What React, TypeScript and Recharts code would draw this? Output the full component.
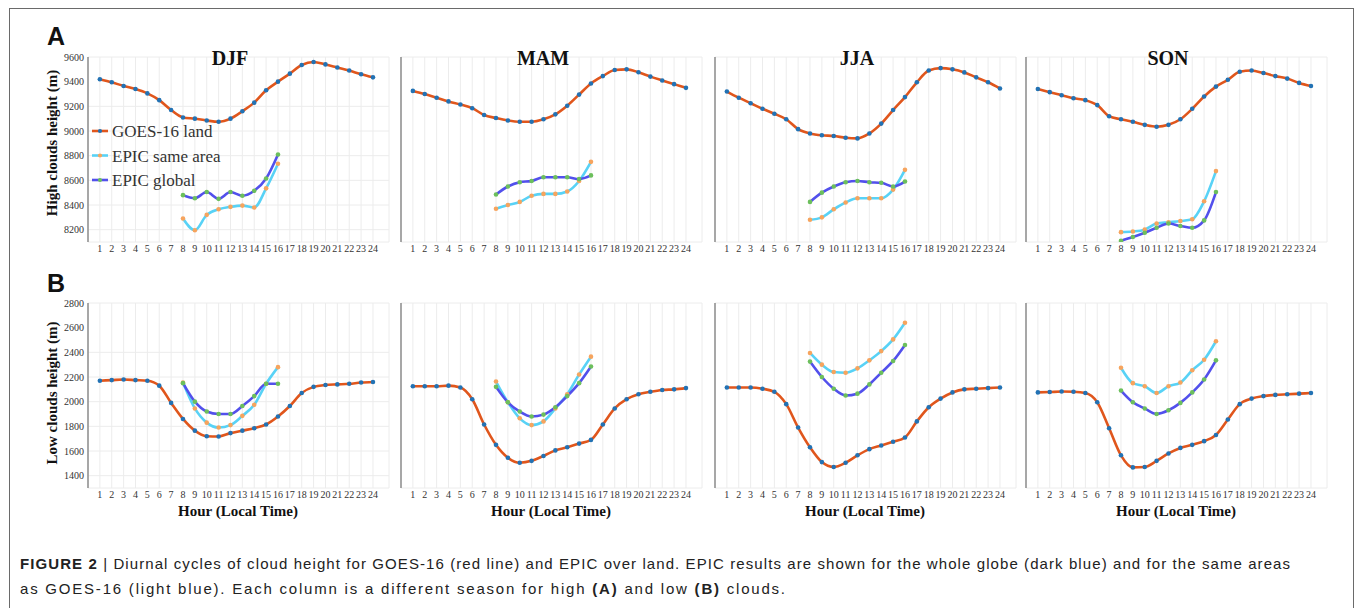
import { LineChart, Line, XAxis, YAxis, CartesianGrid } from "recharts";

const hours = [1, 2, 3, 4, 5, 6, 7, 8, 9, 10, 11, 12, 13, 14, 15, 16, 17, 18, 19, 20, 21, 22, 23, 24];
const epicHours = [8, 9, 10, 11, 12, 13, 14, 15, 16];
const seasons = ["DJF", "MAM", "JJA", "SON"];

const highTicks = [8200, 8400, 8600, 8800, 9000, 9200, 9400, 9600];
const lowTicks = [1400, 1600, 1800, 2000, 2200, 2400, 2600, 2800];

// high clouds height (m)
const goesHighDJF = [9420, 9395, 9365, 9340, 9305, 9250, 9170, 9110, 9100, 9085, 9075, 9100, 9160, 9230, 9330, 9400, 9465, 9535, 9560, 9540, 9515, 9490, 9460, 9435];
const sameHighDJF = [8290, 8195, 8320, 8365, 8385, 8395, 8380, 8535, 8735];
const globalHighDJF = [8480, 8455, 8505, 8450, 8505, 8475, 8515, 8615, 8810];

const goesHighMAM = [9325, 9300, 9270, 9240, 9215, 9185, 9130, 9105, 9085, 9075, 9075, 9095, 9135, 9205, 9295, 9385, 9445, 9495, 9500, 9476, 9441, 9410, 9380, 9350];
const sameHighMAM = [8370, 8400, 8425, 8475, 8490, 8490, 8510, 8595, 8750];
const globalHighMAM = [8485, 8550, 8585, 8595, 8625, 8625, 8625, 8610, 8640];

const goesHighJJA = [9320, 9270, 9225, 9180, 9140, 9095, 9015, 8980, 8965, 8960, 8945, 8940, 8980, 9060, 9170, 9275, 9395, 9490, 9510, 9500, 9475, 9435, 9395, 9345];
const sameHighJJA = [8280, 8300, 8365, 8420, 8455, 8455, 8455, 8525, 8685];
const globalHighJJA = [8425, 8500, 8550, 8585, 8595, 8585, 8580, 8550, 8590];

const goesHighSON = [9340, 9315, 9290, 9265, 9250, 9210, 9120, 9095, 9075, 9050, 9035, 9050, 9095, 9180, 9280, 9360, 9415, 9480, 9490, 9470, 9445, 9425, 9390, 9365];
const sameHighSON = [8180, 8185, 8200, 8250, 8260, 8270, 8285, 8430, 8675];
const globalHighSON = [8110, 8140, 8175, 8215, 8250, 8230, 8215, 8275, 8505];

// low clouds height (m)
const goesLowDJF = [2170, 2175, 2180, 2175, 2170, 2130, 1990, 1860, 1765, 1720, 1718, 1745, 1765, 1785, 1815, 1880, 1965, 2070, 2120, 2135, 2140, 2145, 2155, 2160];
const sameLowDJF = [2155, 1945, 1830, 1790, 1810, 1885, 1975, 2145, 2280];
const globalLowDJF = [2150, 2000, 1920, 1900, 1900, 1965, 2045, 2145, 2145];

const goesLowMAM = [2125, 2125, 2125, 2130, 2115, 2020, 1815, 1650, 1545, 1505, 1520, 1560, 1605, 1630, 1660, 1690, 1815, 1945, 2020, 2060, 2080, 2095, 2100, 2110];
const sameLowMAM = [2163, 1995, 1865, 1810, 1840, 1945, 2060, 2220, 2365];
const globalLowMAM = [2120, 1995, 1920, 1880, 1895, 1955, 2045, 2150, 2285];

const goesLowJJA = [2115, 2115, 2115, 2105, 2080, 1980, 1790, 1630, 1510, 1470, 1505, 1565, 1615, 1645, 1675, 1710, 1840, 1955, 2025, 2075, 2100, 2105, 2110, 2115];
const sameLowJJA = [2395, 2300, 2240, 2235, 2270, 2335, 2410, 2505, 2640];
const globalLowJJA = [2325, 2200, 2105, 2050, 2065, 2140, 2235, 2330, 2460];

const goesLowSON = [2075, 2078, 2082, 2080, 2070, 1995, 1785, 1565, 1467, 1470, 1520, 1580, 1625, 1650, 1680, 1730, 1855, 1980, 2025, 2045, 2055, 2060, 2065, 2070];
const sameLowSON = [2275, 2150, 2125, 2070, 2125, 2155, 2255, 2340, 2490];
const globalLowSON = [2090, 1995, 1945, 1900, 1930, 1990, 2075, 2180, 2335];

const seriesNames = ["GOES-16 land", "EPIC same area", "EPIC global"];

const LINE_COLORS = ["#e0561c", "#58d2f6", "#5250ec"];
const DOT_COLORS = ["#2272b4", "#f6a45e", "#6cbf5c"];

const buildRows = (goes: number[], same: number[], glob: number[]) =>
  hours.map((h, i) => {
    const j = epicHours.indexOf(h);
    return { hour: h, goes: goes[i], same: j >= 0 ? same[j] : null, global: j >= 0 ? glob[j] : null };
  });

const highRows = [
  buildRows(goesHighDJF, sameHighDJF, globalHighDJF),
  buildRows(goesHighMAM, sameHighMAM, globalHighMAM),
  buildRows(goesHighJJA, sameHighJJA, globalHighJJA),
  buildRows(goesHighSON, sameHighSON, globalHighSON),
];
const lowRows = [
  buildRows(goesLowDJF, sameLowDJF, globalLowDJF),
  buildRows(goesLowMAM, sameLowMAM, globalLowMAM),
  buildRows(goesLowJJA, sameLowJJA, globalLowJJA),
  buildRows(goesLowSON, sameLowSON, globalLowSON),
];

const PLOT_W = 301;
const PLOT_H = 185;
const YAX_W = 60;
const M_TOP = 5;
const XAX_H = 20;
const panelLefts = [88, 401, 715, 1026];
const HIGH_TOP = 57;
const LOW_TOP = 303;

const serif = "'Liberation Serif', 'Times New Roman', serif";
const sans = "'Liberation Sans', Arial, sans-serif";

const Panel = ({ rows, left, top, domain, ticks, showTicks }: any) => (
  <div style={{ position: "absolute", left: left - YAX_W, top: top - M_TOP }}>
    <LineChart
      width={YAX_W + PLOT_W + 5}
      height={M_TOP + PLOT_H + XAX_H + 5}
      data={rows}
      margin={{ top: M_TOP, right: 5, bottom: 5, left: 0 }}
    >
      <CartesianGrid stroke="#ececec" strokeWidth={1} />
      <XAxis
        type="number"
        dataKey="hour"
        domain={[0, 25.35]}
        ticks={hours}
        interval={0}
        allowDataOverflow
        axisLine={false}
        tickLine={false}
        tickSize={0}
        tickMargin={3}
        height={XAX_H}
        tick={{ fontSize: 10, fill: "#333", fontFamily: serif }}
      />
      <YAxis
        type="number"
        domain={domain}
        ticks={ticks}
        allowDataOverflow
        width={YAX_W}
        tickLine={false}
        tickSize={0}
        tickMargin={4}
        axisLine={{ stroke: "#8c8c8c", strokeWidth: 1.5 }}
        tick={showTicks ? { fontSize: 10, fill: "#333", fontFamily: serif } : false}
      />
      <Line type="monotone" dataKey="goes" stroke={LINE_COLORS[0]} strokeWidth={2.6}
        dot={{ r: 2.3, fill: DOT_COLORS[0], stroke: "none" }} isAnimationActive={false} />
      <Line type="monotone" dataKey="same" stroke={LINE_COLORS[1]} strokeWidth={2.6}
        dot={{ r: 2.3, fill: DOT_COLORS[1], stroke: "none" }} isAnimationActive={false} />
      <Line type="monotone" dataKey="global" stroke={LINE_COLORS[2]} strokeWidth={2.6}
        dot={{ r: 2.3, fill: DOT_COLORS[2], stroke: "none" }} isAnimationActive={false} />
    </LineChart>
  </div>
);

const legendRows = [131, 155.5, 180];

export default function App() {
  return (
    <div style={{ position: "absolute", left: 0, top: 0, width: 1355, height: 608, overflow: "hidden", background: "#fff" }}>
      <div style={{ position: "absolute", left: 9, top: 8, width: 1343, height: 700, border: "1.5px solid #6a6a6a", borderBottom: "none" }} />
      {seasons.map((s, i) => (
        <Panel key={"h" + s} rows={highRows[i]} left={panelLefts[i]} top={HIGH_TOP} domain={[8100, 9600]} ticks={highTicks} showTicks={i === 0} />
      ))}
      {seasons.map((s, i) => (
        <Panel key={"l" + s} rows={lowRows[i]} left={panelLefts[i]} top={LOW_TOP} domain={[1300, 2800]} ticks={lowTicks} showTicks={i === 0} />
      ))}
      <svg width={1355} height={608} style={{ position: "absolute", left: 0, top: 0, pointerEvents: "none" }}>
        <text x={47} y={45} fontFamily={sans} fontWeight={700} fontSize={25} fill="#111">A</text>
        <text x={47} y={292} fontFamily={sans} fontWeight={700} fontSize={25} fill="#111">B</text>
        {seasons.map((s, i) => (
          <text key={s} x={panelLefts[i] + 142} y={65} textAnchor="middle" fontFamily={serif} fontWeight={700} fontSize={20} fill="#111">{s}</text>
        ))}
        {panelLefts.map((l) => (
          <text key={l} x={l + 150} y={516} textAnchor="middle" fontFamily={serif} fontWeight={700} fontSize={15} fill="#111">Hour (Local Time)</text>
        ))}
        <text x={57} y={143} transform="rotate(-90 57 143)" textAnchor="middle" fontFamily={serif} fontWeight={700} fontSize={15} fill="#111">High clouds height (m)</text>
        <text x={57} y={393} transform="rotate(-90 57 393)" textAnchor="middle" fontFamily={serif} fontWeight={700} fontSize={15} fill="#111">Low clouds height (m)</text>
        {seriesNames.map((n, i) => (
          <g key={n}>
            <line x1={92} x2={108} y1={legendRows[i]} y2={legendRows[i]} stroke={LINE_COLORS[i]} strokeWidth={2.6} />
            <circle cx={100} cy={legendRows[i]} r={2.1} fill={DOT_COLORS[i]} />
            <text x={112} y={legendRows[i] + 6} fontFamily={serif} fontSize={17} fill="#333">{n}</text>
          </g>
        ))}
        <text x={20} y={569} textLength={1270} lengthAdjust="spacing" fontFamily={sans} fontSize={15} fill="#222">
          <tspan fontWeight={700}>FIGURE 2</tspan> | Diurnal cycles of cloud height for GOES-16 (red line) and EPIC over land. EPIC results are shown for the whole globe (dark blue) and for the same areas
        </text>
        <text x={20} y={594} textLength={765} lengthAdjust="spacing" fontFamily={sans} fontSize={15} fill="#222">
          as GOES-16 (light blue). Each column is a different season for high <tspan fontWeight={700}>(A)</tspan> and low <tspan fontWeight={700}>(B)</tspan> clouds.
        </text>
      </svg>
    </div>
  );
}
